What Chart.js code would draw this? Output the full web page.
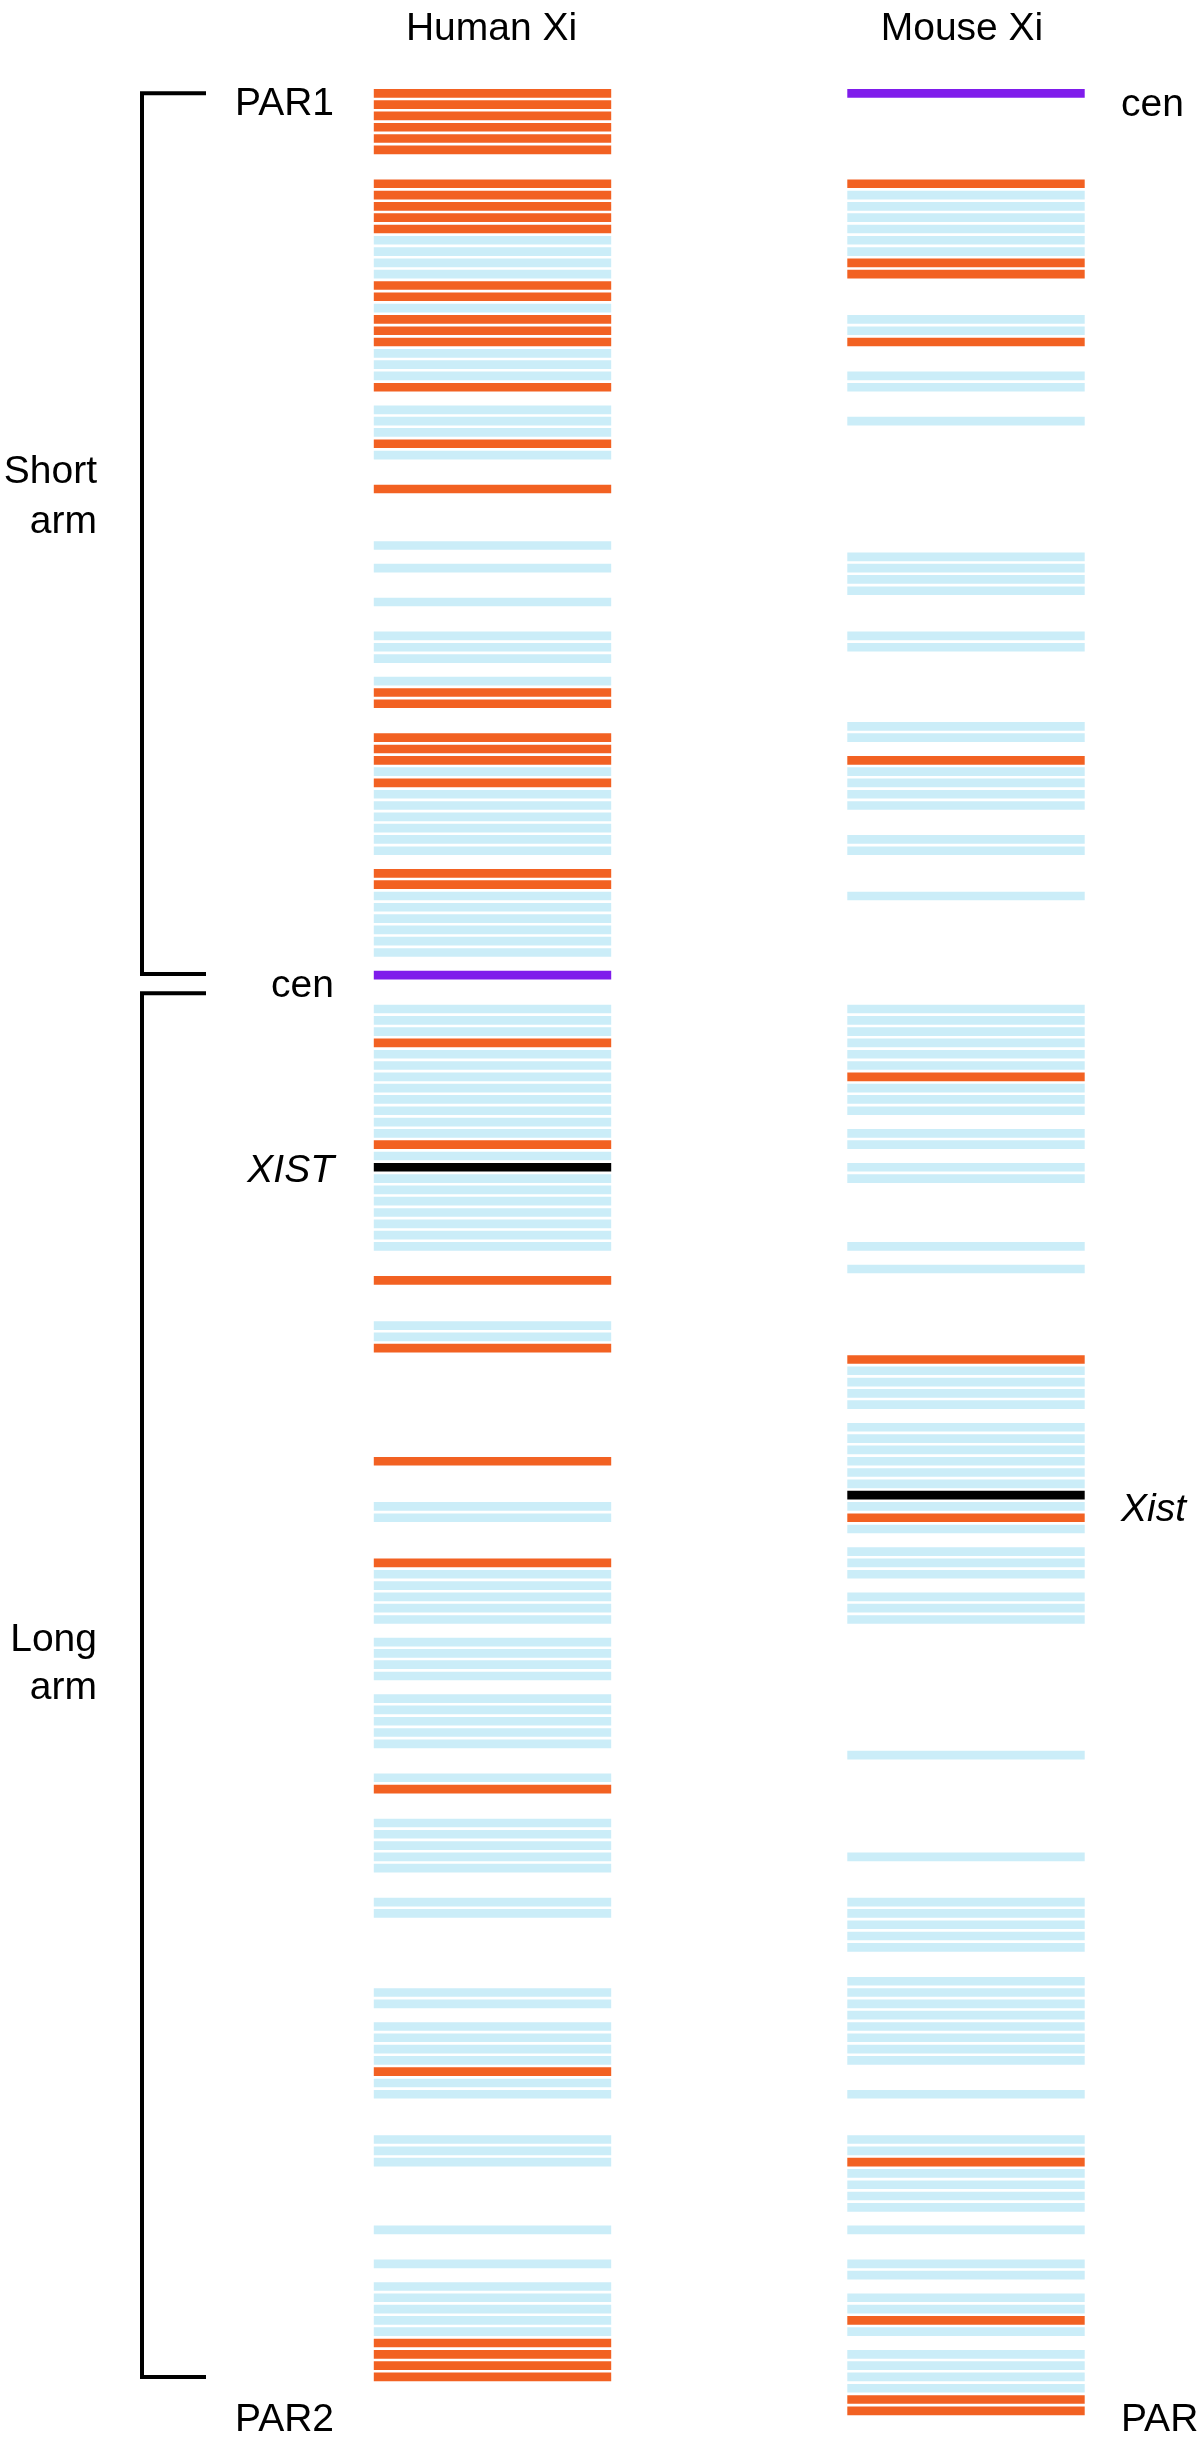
<!DOCTYPE html>
<html><head><meta charset="utf-8">
<script src="https://cdn.jsdelivr.net/npm/chart.js@4.4.1/dist/chart.umd.min.js"></script>
<style>html,body{margin:0;padding:0;background:#fff;}#wrap{position:relative;width:1200px;height:2445px;}</style>
</head><body><div id="wrap"><canvas id="c" width="1200" height="2445"></canvas></div>
<script>
// Columns (chromosomes)
const columns = ["Human Xi", "Mouse Xi"];

// Gene rows along each chromosome (row index from PAR1 / top end)
const humanEscape = [0,1,2,3,4,5,8,9,10,11,12,17,18,20,21,22,26,31,35,53,54,57,58,59,61,69,70,84,93,105,111,121,130,150,175,199,200,201,202];
const humanSubject = [13,14,15,16,19,23,24,25,28,29,30,32,40,42,45,48,49,50,52,60,62,63,64,65,66,67,71,72,73,74,75,76,81,82,83,85,86,87,88,89,90,91,92,94,96,97,98,99,100,101,102,109,110,125,126,131,132,133,134,135,137,138,139,140,142,143,144,145,146,149,153,154,155,156,157,160,161,168,169,171,172,173,174,176,177,181,182,183,189,192,194,195,196,197,198];
const humanCentromere = [78];
const humanXist = [95];

const mouseEscape = [8,15,16,22,59,87,112,126,183,197,204,205];
const mouseSubject = [9,10,11,12,13,14,20,21,25,26,29,41,42,43,44,48,49,56,57,60,61,62,63,66,67,71,81,82,83,84,85,86,88,89,90,92,93,95,96,102,104,113,114,115,116,118,119,120,121,122,123,125,127,129,130,131,133,134,135,147,156,160,161,162,163,164,167,168,169,170,171,172,173,174,177,181,182,184,185,186,187,189,192,193,195,196,198,200,201,202,203];
const mouseCentromere = [0];
const mouseXist = [124];

// Annotation text
const humanLabels = ["PAR1", "cen", "XIST", "PAR2"];
const humanLabelRows = [0.95, 79, 95.3, 205.8];
const mouseLabels = ["cen", "Xist", "PAR"];
const mouseLabelRows = [1.1, 125.3, 205.8];
const armLabels = [["Short", "arm"], ["Long", "arm"]];
const armRanges = [[0, 77.9], [79.6, 202]];
const armLabelRows = [[33.5, 37.9], [136.8, 141.1]];

// ---- layout (not data) ----
const W = 1200, H = 2445;
const colUnitPx = 473.5, col1CenterPx = 492.5, halfWidth = 0.25;
const rowPitchPx = 11.305, row0Px = 93.3;
const xMin = 1 - col1CenterPx / colUnitPx, xMax = xMin + W / colUnitPx;
const yMin = -row0Px / rowPitchPx, yMax = yMin + H / rowPitchPx;

const COLORS = {escape:'#F26122', subject:'#CBEDF8', cen:'#7F1CEB', xist:'#000000'};

function mk(rows, col, color, label){
  return {label, data: rows.map(r => ({y: r, x: [col - halfWidth, col + halfWidth]})),
    backgroundColor: color, borderWidth: 0, barThickness: 8, grouped: false};
}
const datasets = [
  mk(humanSubject, 1, COLORS.subject, 'human subject'),
  mk(humanEscape, 1, COLORS.escape, 'human escape'),
  mk(humanCentromere, 1, COLORS.cen, 'human cen'),
  mk(humanXist, 1, COLORS.xist, 'XIST'),
  mk(mouseSubject, 2, COLORS.subject, 'mouse subject'),
  mk(mouseEscape, 2, COLORS.escape, 'mouse escape'),
  mk(mouseCentromere, 2, COLORS.cen, 'mouse cen'),
  mk(mouseXist, 2, COLORS.xist, 'Xist'),
];

const FONT = '"Liberation Sans", Arial, Helvetica, sans-serif';
const FS = '39px ';
const annot = {
  id: 'annot',
  afterDraw(chart){
    const ctx = chart.ctx, xs = chart.scales.x, ys = chart.scales.y;
    ctx.save();
    ctx.fillStyle = '#000';
    ctx.textBaseline = 'middle';
    ctx.font = FS + FONT;
    // column headers
    ctx.textAlign = 'center';
    ctx.fillText(columns[0], xs.getPixelForValue(1) - 1, 29);
    ctx.fillText(columns[1], xs.getPixelForValue(2) - 4, 29);
    // human side labels (right aligned)
    ctx.textAlign = 'right';
    humanLabels.forEach((t, i) => {
      ctx.font = (t === 'XIST' ? 'italic ' : '') + FS + FONT;
      ctx.fillText(t, 334, ys.getPixelForValue(humanLabelRows[i]));
    });
    ctx.textAlign = 'left';
    mouseLabels.forEach((t, i) => {
      ctx.font = (t === 'Xist' ? 'italic ' : '') + FS + FONT;
      ctx.fillText(t, 1121, ys.getPixelForValue(mouseLabelRows[i]));
    });
    // arm labels
    ctx.font = FS + FONT;
    ctx.textAlign = 'right';
    armLabels.forEach((lines, i) => {
      lines.forEach((t, j) => ctx.fillText(t, 97, ys.getPixelForValue(armLabelRows[i][j])));
    });
    // brackets
    ctx.strokeStyle = '#000';
    ctx.lineWidth = 4;
    ctx.lineCap = 'butt';
    armRanges.forEach(([a, b]) => {
      const ya = ys.getPixelForValue(a), yb = ys.getPixelForValue(b);
      ctx.beginPath();
      ctx.moveTo(206, ya); ctx.lineTo(142, ya); ctx.lineTo(142, yb); ctx.lineTo(206, yb);
      ctx.stroke();
    });
    ctx.restore();
  }
};

new Chart(document.getElementById('c'), {
  type: 'bar',
  data: {datasets},
  options: {
    responsive: false, animation: false, indexAxis: 'y',
    layout: {padding: 0},
    plugins: {legend: {display: false}, tooltip: {enabled: false}, title: {display: false}},
    scales: {
      x: {type: 'linear', display: false, offset: false, min: xMin, max: xMax},
      y: {type: 'linear', display: false, offset: false, reverse: true, min: yMin, max: yMax}
    }
  },
  plugins: [annot]
});
</script></body></html>
